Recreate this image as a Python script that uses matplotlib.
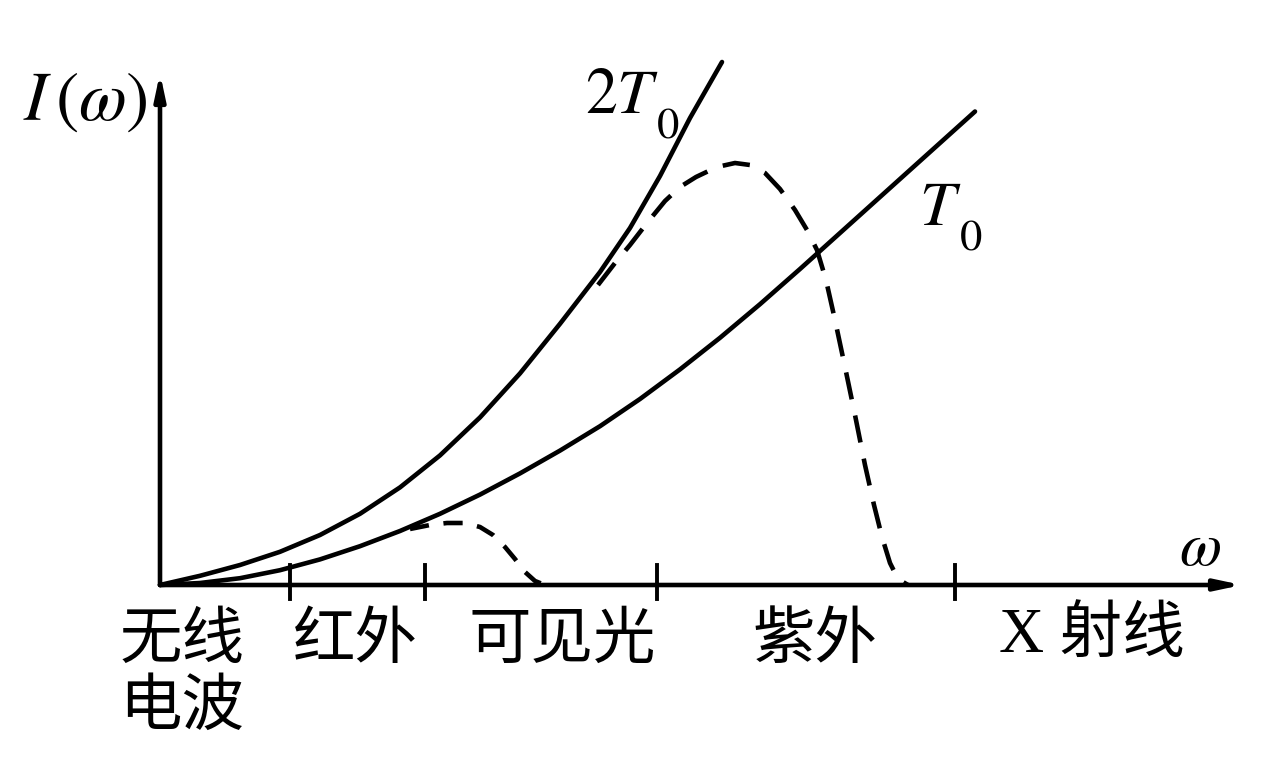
import matplotlib
matplotlib.use("Agg")
import matplotlib.pyplot as plt

plt.rcParams['mathtext.fontset'] = 'stix'

# ---- data (omega, intensity) in arbitrary units ----
curve_2T0_x = [0.0, 0.4, 0.8, 1.2, 1.6, 2.0, 2.4, 2.8, 3.2, 3.6, 4.0, 4.4, 4.7, 5.0, 5.3, 5.62]
curve_2T0_y = [0.0, 0.092, 0.2, 0.332, 0.5, 0.712, 0.976, 1.296, 1.676, 2.116, 2.612, 3.13, 3.57, 4.09, 4.67, 5.23]

curve_T0_x = [0.0, 0.4, 0.8, 1.2, 1.6, 2.0, 2.4, 2.8, 3.2, 3.6, 4.0, 4.4, 4.8, 5.2, 5.6, 6.0, 6.4, 6.9, 7.4, 8.15]
curve_T0_y = [0.0, 0.02, 0.068, 0.148, 0.256, 0.388, 0.54, 0.712, 0.904, 1.116, 1.344, 1.588, 1.86, 2.156, 2.472, 2.808, 3.16, 3.61, 4.06, 4.735]

hump_big_x = [4.38, 4.55, 4.7, 4.87, 5.05, 5.2, 5.36, 5.57, 5.75, 5.9, 6.05, 6.2, 6.35, 6.47, 6.57, 6.66, 6.75, 6.85, 6.95, 7.05, 7.14, 7.22, 7.3, 7.38, 7.48]
hump_big_y = [3.0, 3.22, 3.4, 3.62, 3.84, 3.98, 4.08, 4.18, 4.22, 4.2, 4.12, 3.96, 3.75, 3.55, 3.35, 3.05, 2.65, 2.18, 1.7, 1.2, 0.8, 0.48, 0.22, 0.06, 0.0]

hump_small_x = [2.5, 2.7, 2.87, 3.05, 3.2, 3.33, 3.45, 3.55, 3.65, 3.75, 3.85]
hump_small_y = [0.56, 0.6, 0.62, 0.62, 0.58, 0.5, 0.38, 0.26, 0.13, 0.04, 0.0]

tick_positions = [1.3, 2.65, 4.97, 7.95]
band_labels = ["无线\n电波", "红外", "可见光", "紫外", "X 射线"]
band_centers = [0.22, 1.95, 4.02, 6.55, 9.32]

fig = plt.figure(figsize=(12.64, 7.64), dpi=100)
ax = fig.add_axes([0, 0, 1, 1])
ax.set_xlim(-1.6, 11.04)
ax.set_ylim(-1.79, 5.85)
ax.axis('off')

lw = 3.3
# axes with arrows
ax.annotate('', xy=(10.82, 0), xytext=(0, 0),
            arrowprops=dict(arrowstyle='-|>,head_length=1.5,head_width=0.32',
                            lw=lw, color='black', shrinkA=0, shrinkB=0))
ax.annotate('', xy=(0, 5.12), xytext=(0, 0),
            arrowprops=dict(arrowstyle='-|>,head_length=1.5,head_width=0.32',
                            lw=lw, color='black', shrinkA=0, shrinkB=0))

for t in tick_positions:
    ax.plot([t, t], [-0.14, 0.2], color='black', lw=2.8)

ax.plot(curve_2T0_x, curve_2T0_y, color='black', lw=lw, solid_capstyle='round', solid_joinstyle='round')
ax.plot(curve_T0_x, curve_T0_y, color='black', lw=lw, solid_capstyle='round', solid_joinstyle='round')
ax.plot(hump_big_x, hump_big_y, color='black', lw=lw, linestyle=(0, (6.0, 3.6)))
ax.plot(hump_small_x, hump_small_y, color='black', lw=lw, linestyle=(0, (4.2, 3.2)))

# labels
ax.text(-0.75, 4.85, r'$I\,(\omega)$', fontsize=50, ha='center', va='center')
ax.text(4.62, 4.9, r'$2T$', fontsize=46, ha='center', va='center')
ax.text(5.08, 4.6, r'$\mathrm{0}$', fontsize=32, ha='center', va='center')
ax.text(7.8, 3.78, r'$T$', fontsize=46, ha='center', va='center')
ax.text(8.11, 3.48, r'$\mathrm{0}$', fontsize=32, ha='center', va='center')
ax.text(10.4, 0.37, r'$\omega$', fontsize=44, ha='center', va='center')

cjk = ['Noto Sans CJK SC', 'DejaVu Sans']
for lab, cx in zip(band_labels, band_centers):
    if lab.startswith('X'):
        fam = ['Liberation Serif', 'Noto Sans CJK SC']
    else:
        fam = cjk
    ax.text(cx, -0.23, lab, fontsize=45, ha='center', va='top', family=fam,
            linespacing=1.05)

fig.savefig('out.png', dpi=100, facecolor='white')
